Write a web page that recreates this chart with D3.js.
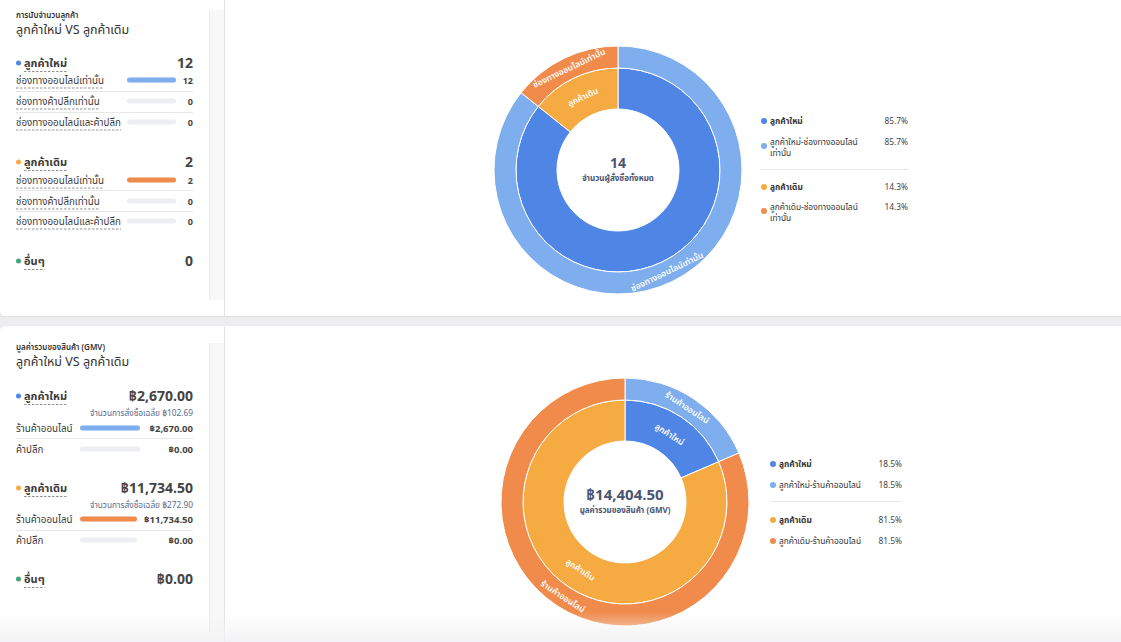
<!DOCTYPE html>
<html><head><meta charset="utf-8">
<script src="https://cdn.jsdelivr.net/npm/d3@7"></script>
<style>
html,body{margin:0;padding:0;background:#fff;}
svg{display:block;font-family:"Noto Sans Thai","Noto Sans","Noto Sans CJK SC",sans-serif;}
</style></head><body>
<svg id="c" width="1121" height="642"></svg>
<script>
// ---------- DATA ----------
const subTitle = "ลูกค้าใหม่ VS ลูกค้าเดิม";
const categories = ["ลูกค้าใหม่", "ลูกค้าเดิม"];
const othersLabel = "อื่นๆ";

const countTitle = "การนับจำนวนลูกค้า";
const countChannels = ["ช่องทางออนไลน์เท่านั้น", "ช่องทางค้าปลีกเท่านั้น", "ช่องทางออนไลน์และค้าปลีก"];
const countNew = [12, 0, 0];
const countOld = [2, 0, 0];
const countOthers = 0;
const countCenterLabel = "จำนวนผู้สั่งซื้อทั้งหมด";
const countInnerLabelShown = [false, true];
const countLegendLines = [["ลูกค้าใหม่"], ["ลูกค้าใหม่-ช่องทางออนไลน์", "เท่านั้น"], ["ลูกค้าเดิม"], ["ลูกค้าเดิม-ช่องทางออนไลน์", "เท่านั้น"]];

const gmvTitle = "มูลค่ารวมของสินค้า (GMV)";
const gmvChannels = ["ร้านค้าออนไลน์", "ค้าปลีก"];
const gmvNew = [2670.00, 0];
const gmvOld = [11734.50, 0];
const gmvOthers = 0;
const gmvAvg = [102.69, 272.90];
const avgLabel = "จำนวนการสั่งซื้อเฉลี่ย";
const gmvCenterLabel = "มูลค่ารวมของสินค้า (GMV)";
const gmvInnerLabelShown = [true, true];
const gmvLegendLines = [["ลูกค้าใหม่"], ["ลูกค้าใหม่-ร้านค้าออนไลน์"], ["ลูกค้าเดิม"], ["ลูกค้าเดิม-ร้านค้าออนไลน์"]];

// ---------- STYLE ----------
const C = {
  newIn: "#4f86e5", newOut: "#7eaeee", oldIn: "#f5aa42", oldOut: "#f08b4c",
  green: "#3fa57c", track: "#eceef1", text: "#3a3a3a", val: "#444", center: "#4b5472",
  sep: "#e6e7ea", avg: "#5b6a8c"
};
const svg = d3.select("#c");
const fmtBaht = v => "฿" + d3.format(",.2f")(v);
const fmtPct = d3.format(".1%");

// ---------- BACKGROUND / PANELS ----------
svg.append("rect").attr("width", 1121).attr("height", 642).attr("fill", "#fff");
svg.append("rect").attr("x", 0).attr("y", 316).attr("width", 1121).attr("height", 10).attr("fill", "#ededf0");
svg.append("line").attr("x1", 0).attr("x2", 1121).attr("y1", 316.5).attr("y2", 316.5).attr("stroke", "#e0e1e5");
svg.append("path").attr("d", "M0,310 Q0,316 6,316 L0,316Z").attr("fill", "#ededf0");
svg.append("path").attr("d", "M0,332 Q0,326 6,326 L0,326Z").attr("fill", "#ededf0");
[[10, 300], [343, 632]].forEach(([a, b]) => {
  svg.append("rect").attr("x", 209).attr("y", a).attr("width", 15).attr("height", b - a).attr("fill", "#f8f8f9");
  svg.append("line").attr("x1", 209.5).attr("x2", 209.5).attr("y1", a).attr("y2", b).attr("stroke", "#ececef");
});
svg.append("line").attr("x1", 224.5).attr("x2", 224.5).attr("y1", 0).attr("y2", 316).attr("stroke", "#e3e4ea");
svg.append("line").attr("x1", 224.5).attr("x2", 224.5).attr("y1", 326).attr("y2", 642).attr("stroke", "#e3e4ea");

// ---------- LEFT PANEL ----------
function dashedText(g, x, y, txt, size, weight, color, underline) {
  const t = g.append("text").attr("x", x).attr("y", y).attr("font-size", size)
    .attr("font-weight", weight).attr("fill", color).text(txt);
  if (underline) {
    const w = t.node().getComputedTextLength();
    g.append("line").attr("x1", x).attr("x2", x + w).attr("y1", y + 4.5).attr("y2", y + 4.5)
      .attr("stroke", "#777").attr("stroke-width", 0.8).attr("stroke-dasharray", "2.5,1.5");
  }
  return t;
}
function header(g, y, dot, label, valueText, valSize) {
  g.append("circle").attr("cx", 18.5).attr("cy", y).attr("r", 2.5).attr("fill", dot);
  dashedText(g, 24, y + 4, label, 11, 700, C.text, true);
  g.append("text").attr("x", 193).attr("y", y + 5).attr("text-anchor", "end")
    .attr("font-size", valSize).attr("font-weight", 700).attr("fill", C.val).text(valueText);
}
function rows(g, ys, labels, values, fmt, color, x0, x1, underline, seps, valSize) {
  const total = d3.max(values) || 1;
  const xs = d3.scaleLinear().domain([0, total]).range([x0, x1]);
  labels.forEach((lab, i) => {
    const y = ys[i];
    dashedText(g, 16, y + 3.5, lab, 9.8, 400, C.text, underline);
    g.append("rect").attr("x", x0).attr("y", y - 2.5).attr("width", xs(total) - x0).attr("height", 5)
      .attr("rx", 2.5).attr("fill", C.track);
    if (values[i] > 0)
      g.append("rect").attr("x", x0).attr("y", y - 2.5).attr("width", xs(values[i]) - x0).attr("height", 5)
        .attr("rx", 2.5).attr("fill", color);
    g.append("text").attr("x", 193).attr("y", y + 3.5).attr("text-anchor", "end")
      .attr("font-size", valSize).attr("font-weight", 700).attr("fill", C.val).text(fmt(values[i]));
  });
  seps.forEach(y => g.append("line").attr("x1", 16).attr("x2", 193).attr("y1", y + 0.5).attr("y2", y + 0.5)
    .attr("stroke", C.sep));
}

const L = svg.append("g");
const sum = a => d3.sum(a);
// top section
L.append("text").attr("x", 16).attr("y", 18).attr("font-size", 8).attr("font-weight", 600).attr("fill", "#333").text(countTitle);
L.append("text").attr("x", 16).attr("y", 33.5).attr("font-size", 12.5).attr("fill", "#333").text(subTitle);
header(L, 63, C.newIn, categories[0], sum(countNew), 14);
rows(L, [80, 101, 122], countChannels, countNew, d => d, C.newOut, 127, 176, true, [91, 112], 9);
header(L, 162, C.oldIn, categories[1], sum(countOld), 14);
rows(L, [180, 201, 221], countChannels, countOld, d => d, C.oldOut, 127, 176, true, [190, 211], 9);
header(L, 261, C.green, othersLabel, countOthers, 14);

// bottom section
L.append("text").attr("x", 16).attr("y", 350).attr("font-size", 8).attr("font-weight", 600).attr("fill", "#333").text(gmvTitle);
L.append("text").attr("x", 16).attr("y", 365.5).attr("font-size", 12.5).attr("fill", "#333").text(subTitle);
header(L, 396, C.newIn, categories[0], fmtBaht(sum(gmvNew)), 14);
L.append("text").attr("x", 193).attr("y", 416).attr("text-anchor", "end").attr("font-size", 8.3).attr("fill", C.avg)
  .text(avgLabel + " " + fmtBaht(gmvAvg[0]));
rows(L, [428, 449], gmvChannels, gmvNew, fmtBaht, C.newOut, 80, 140, false, [438], 9.5);
header(L, 488, C.oldIn, categories[1], fmtBaht(sum(gmvOld)), 14);
L.append("text").attr("x", 193).attr("y", 508).attr("text-anchor", "end").attr("font-size", 8.3).attr("fill", C.avg)
  .text(avgLabel + " " + fmtBaht(gmvAvg[1]));
rows(L, [519, 540], gmvChannels, gmvOld, fmtBaht, C.oldOut, 80, 137, false, [530], 9.5);
header(L, 579, C.green, othersLabel, fmtBaht(gmvOthers), 14);

// ---------- DONUTS ----------
function donut(cx, cy, newVals, oldVals, channels, innerShown, centerValue, centerLabel, centerSize) {
  const g = svg.append("g").attr("transform", `translate(${cx},${cy})`);
  const inner = [
    { name: categories[0], value: sum(newVals), color: C.newIn, show: innerShown[0] },
    { name: categories[1], value: sum(oldVals), color: C.oldIn, show: innerShown[1] }
  ];
  const outer = [];
  channels.forEach((ch, i) => { if (newVals[i] > 0) outer.push({ name: ch, value: newVals[i], color: C.newOut, show: true }); });
  channels.forEach((ch, i) => { if (oldVals[i] > 0) outer.push({ name: ch, value: oldVals[i], color: C.oldOut, show: true }); });
  const pie = d3.pie().sort(null).value(d => d.value);
  const rings = [[inner, 61, 102, 81], [outer, 102, 124, 113]];
  rings.forEach(([data, r0, r1, rl]) => {
    const arcs = pie(data);
    const arc = d3.arc().innerRadius(r0).outerRadius(r1);
    g.selectAll(null).data(arcs).enter().append("path").attr("d", arc)
      .attr("fill", d => d.data.color).attr("stroke", "#fff").attr("stroke-width", 1);
    const la = d3.arc().innerRadius(rl).outerRadius(rl);
    g.selectAll(null).data(arcs.filter(d => d.data.show)).enter().append("text")
      .attr("transform", d => {
        const [x, y] = la.centroid(d);
        let deg = (d.startAngle + d.endAngle) / 2 * 180 / Math.PI;
        if (deg > 90 && deg < 270) deg -= 180;
        return `translate(${x},${y}) rotate(${deg})`;
      })
      .attr("text-anchor", "middle").attr("dy", "0.35em").attr("font-size", 8.5).attr("font-weight", 600)
      .attr("fill", "#fff").text(d => d.data.name);
  });
  g.append("text").attr("y", -2).attr("text-anchor", "middle").attr("font-size", centerSize).attr("font-weight", 700)
    .attr("fill", C.center).text(centerValue);
  g.append("text").attr("y", 11).attr("text-anchor", "middle").attr("font-size", 8).attr("font-weight", 700)
    .attr("fill", C.center).text(centerLabel);
  return { inner, outer };
}

const cTot = sum(countNew) + sum(countOld);
const gTot = sum(gmvNew) + sum(gmvOld);
donut(618, 170, countNew, countOld, countChannels, countInnerLabelShown, cTot, countCenterLabel, 14);
donut(625, 502, gmvNew, gmvOld, gmvChannels, gmvInnerLabelShown, fmtBaht(gTot), gmvCenterLabel, 15);

// ---------- LEGENDS ----------
function legend(x, xr, ys, lines, colors, vals, sepY) {
  const g = svg.append("g");
  lines.forEach((ls, i) => {
    const y = ys[i];
    g.append("circle").attr("cx", x + 3).attr("cy", y + (ls.length > 1 ? 4 : 0)).attr("r", 3).attr("fill", colors[i]);
    ls.forEach((l, j) => g.append("text").attr("x", x + 9).attr("y", y + 3 + j * 11).attr("font-size", 8.4)
      .attr("font-weight", i % 2 === 0 ? 700 : 400).attr("fill", "#333").text(l));
    g.append("text").attr("x", xr).attr("y", y + 3).attr("text-anchor", "end").attr("font-size", 8.4)
      .attr("fill", "#444").text(fmtPct(vals[i]));
  });
  g.append("line").attr("x1", x).attr("x2", xr).attr("y1", sepY + 0.5).attr("y2", sepY + 0.5).attr("stroke", C.sep);
}
const legColors = [C.newIn, C.newOut, C.oldIn, C.oldOut];
legend(761, 908, [121, 142, 187, 207], countLegendLines, legColors,
  [sum(countNew) / cTot, countNew[0] / cTot, sum(countOld) / cTot, countOld[0] / cTot], 169);
legend(770, 902, [464, 485, 520, 541], gmvLegendLines, legColors,
  [sum(gmvNew) / gTot, gmvNew[0] / gTot, sum(gmvOld) / gTot, gmvOld[0] / gTot], 501);

// bottom fade
const defs = svg.append("defs");
const lg = defs.append("linearGradient").attr("id", "fade").attr("x1", 0).attr("x2", 0).attr("y1", 0).attr("y2", 1);
lg.append("stop").attr("offset", 0).attr("stop-color", "#f1f1f3").attr("stop-opacity", 0);
lg.append("stop").attr("offset", 1).attr("stop-color", "#f1f1f3").attr("stop-opacity", 0.85);
svg.append("rect").attr("x", 0).attr("y", 612).attr("width", 1121).attr("height", 30).attr("fill", "url(#fade)");
</script>
</body></html>
